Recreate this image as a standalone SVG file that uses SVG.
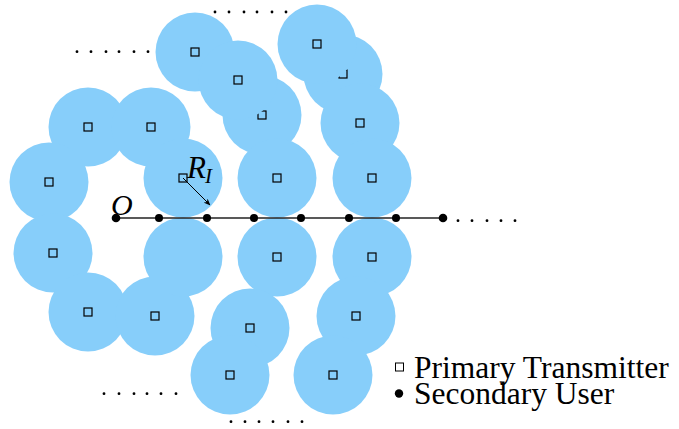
<svg xmlns="http://www.w3.org/2000/svg" width="679" height="429" viewBox="0 0 679 429">
<style>
.c{fill:#87CEFA;}
.sq{fill:none;stroke:#000;stroke-width:1.2;}
.su{fill:#000;}
.d{fill:#000;}
.t{font-family:"Liberation Serif","Times New Roman",serif;fill:#000;}
.it{font-style:italic;}
</style>
<defs>
<marker id="ah" viewBox="0 0 10 10" refX="9" refY="5" markerWidth="7" markerHeight="7" orient="auto" markerUnits="userSpaceOnUse">
<path d="M0,1 L10,5 L0,9 L3,5 Z" fill="#000"/>
</marker>
</defs>
<rect width="679" height="429" fill="#fff"/>
<g id="coverage">
<g id="pt-hidden">
<circle class="c" cx="262" cy="115" r="39.5"/>
<rect class="sq" x="258" y="111" width="8" height="8"/>
<circle class="c" cx="343" cy="74" r="39.5"/>
<rect class="sq" x="339" y="70" width="8" height="8"/>
</g>
<g id="circles">
<circle class="c" cx="195" cy="52" r="39.5"/>
<circle class="c" cx="238" cy="80" r="39.5"/>
<circle class="c" cx="88" cy="127" r="39.5"/>
<circle class="c" cx="151" cy="127" r="39.5"/>
<circle class="c" cx="49" cy="182" r="39.5"/>
<circle class="c" cx="183" cy="178" r="39.5"/>
<circle class="c" cx="277" cy="178" r="39.5"/>
<circle class="c" cx="317" cy="44" r="39.5"/>
<circle class="c" cx="360" cy="123" r="39.5"/>
<circle class="c" cx="372" cy="178" r="39.5"/>
<circle class="c" cx="53" cy="253" r="39.5"/>
<circle class="c" cx="88" cy="312" r="39.5"/>
<circle class="c" cx="155" cy="316" r="39.5"/>
<circle class="c" cx="183" cy="257" r="39.5"/>
<circle class="c" cx="277" cy="257" r="39.5"/>
<circle class="c" cx="372" cy="257" r="39.5"/>
<circle class="c" cx="250" cy="328" r="39.5"/>
<circle class="c" cx="356" cy="316" r="39.5"/>
<circle class="c" cx="230" cy="375" r="39.5"/>
<circle class="c" cx="333" cy="375" r="39.5"/>
</g>
<g id="primary-transmitters">
<rect class="sq" x="191" y="48" width="8" height="8"/>
<rect class="sq" x="234" y="76" width="8" height="8"/>
<rect class="sq" x="84" y="123" width="8" height="8"/>
<rect class="sq" x="147" y="123" width="8" height="8"/>
<rect class="sq" x="45" y="178" width="8" height="8"/>
<rect class="sq" x="179" y="174" width="8" height="8"/>
<rect class="sq" x="273" y="174" width="8" height="8"/>
<rect class="sq" x="313" y="40" width="8" height="8"/>
<rect class="sq" x="356" y="119" width="8" height="8"/>
<rect class="sq" x="368" y="174" width="8" height="8"/>
<rect class="sq" x="49" y="249" width="8" height="8"/>
<rect class="sq" x="84" y="308" width="8" height="8"/>
<rect class="sq" x="151" y="312" width="8" height="8"/>
<rect class="sq" x="273" y="253" width="8" height="8"/>
<rect class="sq" x="368" y="253" width="8" height="8"/>
<rect class="sq" x="246" y="324" width="8" height="8"/>
<rect class="sq" x="352" y="312" width="8" height="8"/>
<rect class="sq" x="226" y="371" width="8" height="8"/>
<rect class="sq" x="329" y="371" width="8" height="8"/>
</g>
</g>
<g id="connectors">
<line x1="116" y1="218" x2="443" y2="218" stroke="#222" stroke-width="1.6"/>
<line x1="183" y1="178" x2="210" y2="205" stroke="#000" stroke-width="1" marker-end="url(#ah)"/>
</g>
<g id="secondary-users">
<circle class="su" cx="116" cy="218" r="4.3"/>
<circle class="su" cx="159" cy="218" r="4"/>
<circle class="su" cx="207" cy="218" r="4"/>
<circle class="su" cx="254" cy="218" r="4"/>
<circle class="su" cx="301" cy="218" r="4"/>
<circle class="su" cx="349" cy="218" r="4"/>
<circle class="su" cx="396" cy="218" r="4"/>
<circle class="su" cx="443" cy="218" r="4.3"/>
</g>
<g id="ellipses">
<circle class="d" cx="458" cy="220.7" r="1.4"/>
<circle class="d" cx="472" cy="220.7" r="1.4"/>
<circle class="d" cx="487" cy="220.7" r="1.4"/>
<circle class="d" cx="501" cy="220.7" r="1.4"/>
<circle class="d" cx="515" cy="220.7" r="1.4"/>
<circle class="d" cx="77" cy="51.7" r="1.4"/>
<circle class="d" cx="91" cy="51.7" r="1.4"/>
<circle class="d" cx="106" cy="51.7" r="1.4"/>
<circle class="d" cx="119" cy="51.7" r="1.4"/>
<circle class="d" cx="134" cy="51.7" r="1.4"/>
<circle class="d" cx="148" cy="51.7" r="1.4"/>
<circle class="d" cx="215" cy="12" r="1.4"/>
<circle class="d" cx="229" cy="12" r="1.4"/>
<circle class="d" cx="244" cy="12" r="1.4"/>
<circle class="d" cx="257" cy="12" r="1.4"/>
<circle class="d" cx="272" cy="12" r="1.4"/>
<circle class="d" cx="286" cy="12" r="1.4"/>
<circle class="d" cx="104" cy="393.7" r="1.4"/>
<circle class="d" cx="119" cy="393.7" r="1.4"/>
<circle class="d" cx="134" cy="393.7" r="1.4"/>
<circle class="d" cx="147" cy="393.7" r="1.4"/>
<circle class="d" cx="161" cy="393.7" r="1.4"/>
<circle class="d" cx="176" cy="393.7" r="1.4"/>
<circle class="d" cx="231" cy="421.7" r="1.4"/>
<circle class="d" cx="245" cy="421.7" r="1.4"/>
<circle class="d" cx="259" cy="421.7" r="1.4"/>
<circle class="d" cx="273" cy="421.7" r="1.4"/>
<circle class="d" cx="288" cy="421.7" r="1.4"/>
<circle class="d" cx="302" cy="421.7" r="1.4"/>
</g>
<g id="labels">
<text class="t it" x="111" y="215" font-size="30">O</text>
<text class="t it" x="187" y="178" font-size="31">R<tspan font-size="21" dy="5" dx="-1">I</tspan></text>
</g>
<g id="legend">
<rect x="395.5" y="363" width="8" height="8" fill="none" stroke="#000" stroke-width="1"/>
<text class="t" x="414" y="378" font-size="31.5">Primary Transmitter</text>
<circle cx="399" cy="393.5" r="4.2" fill="#000"/>
<text class="t" x="414" y="404" font-size="31.5">Secondary User</text>
</g>
</svg>
